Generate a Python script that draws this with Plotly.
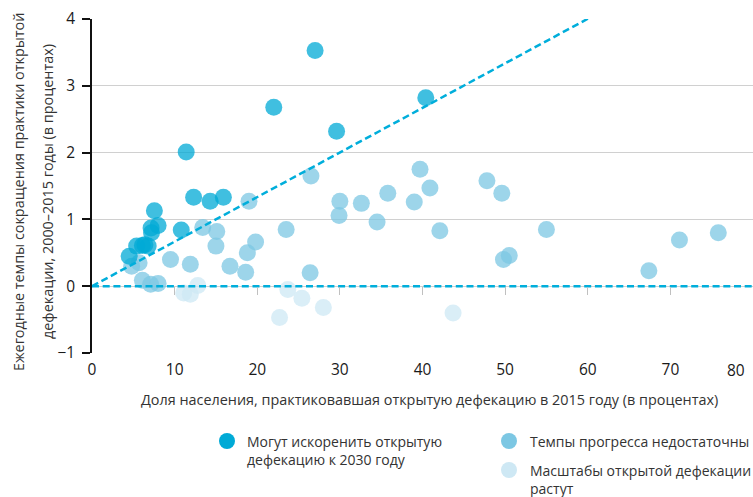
import plotly.graph_objects as go

# --- data ---
can_x = [27.0, 22.0, 29.6, 11.4, 12.3, 14.3, 15.9, 7.55, 8.0, 7.15, 7.2, 10.8, 5.4, 6.1, 6.8, 6.4, 4.5, 40.4]
can_y = [3.53, 2.68, 2.32, 2.01, 1.33, 1.27, 1.33, 1.13, 0.91, 0.87, 0.80, 0.84, 0.60, 0.61, 0.60, 0.62, 0.45, 2.82]

slow_x = [26.5, 19.0, 30.0, 29.9, 32.6, 34.5, 35.8, 39.0, 39.7, 40.9, 42.1, 47.8, 49.6, 49.8, 50.5, 55.0,
          67.4, 71.1, 75.8, 23.5, 19.8, 18.8, 18.6, 16.7, 26.4, 13.4, 15.1, 15.0, 11.9, 9.5, 5.7, 4.8, 6.1, 7.1, 8.0]
slow_y = [1.65, 1.27, 1.27, 1.06, 1.24, 0.96, 1.39, 1.26, 1.75, 1.47, 0.83, 1.58, 1.39, 0.40, 0.46, 0.85,
          0.23, 0.69, 0.80, 0.85, 0.66, 0.50, 0.21, 0.30, 0.20, 0.88, 0.82, 0.60, 0.33, 0.40, 0.35, 0.30, 0.09, 0.03, 0.04]

rise_x = [11.1, 11.9, 12.8, 23.7, 25.4, 22.7, 28.0, 43.7]
rise_y = [-0.10, -0.12, 0.01, -0.05, -0.18, -0.47, -0.32, -0.40]

target_x = [0, 61]
target_y = [0, 4.07]
zero_x = [0, 80]
zero_y = [0, 0]

x_ticks = [0, 10, 20, 30, 40, 50, 60, 70, 80]
y_ticks = [-1, 0, 1, 2, 3, 4]

x_title = "Доля населения, практиковавшая открытую дефекацию в 2015 году (в процентах)"
y_title_lines = ["Ежегодные темпы сокращения практики открытой",
                 "дефекации, 2000–2015 годы (в процентах)"]
legend_labels = ["Могут искоренить открытую<br>дефекацию к 2030 году",
                 "Темпы прогресса недостаточны",
                 "Масштабы открытой дефекации<br>растут"]

C_DARK = "#00aad6"
C_MED = "#7cc7e3"
C_LIGHT = "#cee8f4"
LINE_C = "#00aedb"
FONT = "Open Sans"
TXT = 14.4
LEG = 14.0
TICK = 15.5

W, H = 753, 497
pl, pr, pt, pb = 92, 0, 19, 144
pw, ph = W - pl - pr, H - pt - pb

fig = go.Figure()

for xs, ys, c in [(rise_x, rise_y, C_LIGHT), (slow_x, slow_y, C_MED), (can_x, can_y, C_DARK)]:
    fig.add_trace(go.Scatter(x=xs, y=ys, mode="markers",
                             marker=dict(size=17, color=c, opacity=0.75, line=dict(width=0)),
                             showlegend=False, hoverinfo="x+y"))

for lx, ly in [(zero_x, zero_y), (target_x, target_y)]:
    fig.add_trace(go.Scatter(x=lx, y=ly, mode="lines",
                             line=dict(color=LINE_C, width=2.5, dash="7px,3.7px"), showlegend=False))

# invisible trace to activate the crossing axis with ticks at y=0
fig.add_trace(go.Scatter(x=[0], y=[0], xaxis="x2", mode="markers",
                         marker=dict(opacity=0), showlegend=False, hoverinfo="skip"))

fig.update_layout(
    width=W, height=H,
    margin=dict(l=pl, r=pr, t=pt, b=pb),
    plot_bgcolor="white", paper_bgcolor="white",
    font=dict(family=FONT, size=TXT, color="#333333"),
    xaxis=dict(range=[0, 80], tickvals=x_ticks[:-1], showgrid=False, zeroline=False, automargin=False,
               showline=False, ticks="", ticklabelstandoff=5,
               tickfont=dict(size=TICK, color="#1a1a1a")),
    xaxis2=dict(range=[0, 80], overlaying="x", anchor="free", position=0.2, automargin=False,
                tickvals=x_ticks[1:], ticks="outside", ticklen=8, tickcolor="#c0c0c0",
                tickwidth=1, showticklabels=False, showgrid=False, zeroline=False, showline=False,
                side="bottom"),
    yaxis=dict(range=[-1, 4], tickvals=y_ticks, showgrid=True, gridcolor="#d0d0d0", gridwidth=1,
               zeroline=False, showline=True, linecolor="#111111", linewidth=1.5, automargin=False,
               ticks="outside", ticklen=8, tickcolor="#111111", tickwidth=1.5,
               ticklabelstandoff=4,
               tickfont=dict(size=TICK, color="#1a1a1a")),
)

fig.add_annotation(x=80, y=-1, xref="x", yref="y", text="80", showarrow=False,
                   xanchor="right", yanchor="top", yshift=-4, xshift=-6,
                   font=dict(size=TICK, color="#1a1a1a"))

# axis titles
fig.add_annotation(x=(429.5 - pl) / pw, y=(H - pb - 399) / ph, xref="paper", yref="paper",
                   text=x_title, showarrow=False, xanchor="center", yanchor="middle",
                   font=dict(size=TXT, color="#333333"))
for lx_px, line in zip([18, 47], y_title_lines):
    fig.add_annotation(x=(lx_px - pl) / pw, y=(H - pb - 192) / ph, xref="paper", yref="paper",
                       text=line, showarrow=False, xanchor="center", yanchor="middle",
                       textangle=-90, font=dict(size=TXT, color="#333333"))

# legend
leg = [(227, 441, C_DARK, 245, 441, legend_labels[0]),
       (509, 441, C_MED, 528, 441, legend_labels[1]),
       (509, 470, C_LIGHT, 528, 470, legend_labels[2])]
for mx, my, c, tx, ty, txt in leg:
    xp = (mx - pl) / pw
    yp = (H - pb - my) / ph
    fig.add_shape(type="circle", xref="paper", yref="paper", xsizemode="pixel", ysizemode="pixel",
                  xanchor=xp, yanchor=yp, x0=-8, x1=8, y0=-8, y1=8,
                  fillcolor=c, line=dict(width=0), layer="above")
    fig.add_annotation(x=(tx - pl) / pw, y=(H - pb - ty) / ph, xref="paper", yref="paper",
                       text=txt, showarrow=False, xanchor="left", yanchor="top", yshift=11,
                       align="left", font=dict(size=LEG, color="#333333"))

fig.write_html("out.html", config={"displayModeBar": False},
               post_script="document.body.style.margin='0';document.body.style.overflow='hidden';")
